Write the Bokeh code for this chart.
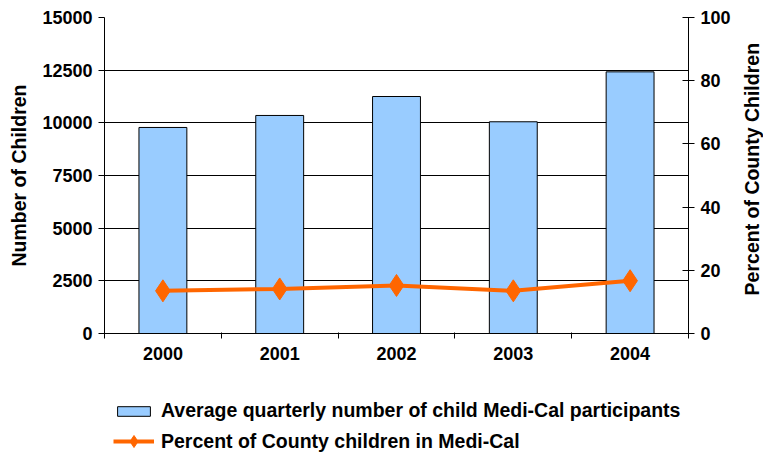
import math
from bokeh.plotting import figure
from bokeh.layouts import column, row
from bokeh.models import (Range1d, LinearAxis, FixedTicker, Legend, LegendItem,
                          ColumnDataSource, Label)
from bokeh.embed import file_html
from bokeh.resources import INLINE

# Medi-Cal participation by year
years = ["2000", "2001", "2002", "2003", "2004"]
participants = [9780, 10350, 11250, 10050, 12420]
percent_children = [13.5, 14.1, 15.2, 13.5, 16.7]
left_ticks = [0, 2500, 5000, 7500, 10000, 12500, 15000]
right_ticks = [0, 20, 40, 60, 80, 100]

bar_label = "Average quarterly number of child Medi-Cal participants"
line_label = "Percent of County children in Medi-Cal"
right_title = "Percent of County Children"

xpos = [i + 0.5 for i in range(len(years))]
src = ColumnDataSource(dict(x=xpos, n=participants, pct=percent_children))

FONT = "Liberation Sans"
BAR_STYLE = dict(fill_color="#99CCFF", line_color="black", line_width=1)
LINE_STYLE = dict(line_color="#FF6600", line_width=4)
DOT_STYLE = dict(marker="diamond", fill_color="#FF6600", line_color="#FF6600")

# ---- main chart -------------------------------------------------------------
p = figure(width=736, height=370, output_backend="svg", toolbar_location=None,
           x_range=Range1d(0, len(years)), y_range=Range1d(0, 15000),
           frame_width=584, frame_height=316,
           min_border_left=104, min_border_right=48, min_border_top=17,
           min_border_bottom=37)
p.extra_y_ranges = {"pct": Range1d(0, 100)}
p.outline_line_color = None

p.vbar(x="x", top="n", width=0.41, source=src, **BAR_STYLE)
p.line(x="x", y="pct", source=src, y_range_name="pct", **LINE_STYLE)
p.scatter(x="x", y="pct", source=src, y_range_name="pct", size=22, **DOT_STYLE)

# x axis: year labels at centres, tick marks between categories
xa = p.xaxis[0]
xa.ticker = FixedTicker(ticks=xpos, minor_ticks=list(range(len(years) + 1)))
xa.major_label_overrides = {x: y for x, y in zip(xpos, years)}
xa.major_tick_out = 0
xa.major_tick_in = 0
xa.minor_tick_out = 5
xa.minor_tick_in = 1
xa.minor_tick_line_color = "black"
xa.major_label_standoff = 8
p.xgrid.visible = False

# left axis
ya = p.yaxis[0]
ya.ticker = FixedTicker(ticks=left_ticks)
ya.minor_tick_line_color = None
ya.major_tick_out = 6
ya.major_tick_in = 0
ya.axis_label = "Number of Children"
ya.axis_label_standoff = 9
ya.major_label_standoff = 6
p.ygrid.grid_line_color = "black"
p.ygrid.grid_line_alpha = 1.0
p.ygrid.ticker = FixedTicker(ticks=left_ticks)

# right axis (its title is drawn alongside, reading upwards)
ra = LinearAxis(y_range_name="pct", ticker=FixedTicker(ticks=right_ticks))
ra.minor_tick_line_color = None
ra.major_tick_out = 6
ra.major_tick_in = 6
ra.major_label_standoff = 6
p.add_layout(ra, "right")

for ax in [xa, ya, ra]:
    ax.major_label_text_font = FONT
    ax.major_label_text_font_style = "bold"
    ax.major_label_text_font_size = "18px"
    ax.major_label_text_color = "black"
    ax.axis_label_text_font = FONT
    ax.axis_label_text_font_style = "bold"
    ax.axis_label_text_font_size = "19.5px"
    ax.axis_label_text_color = "black"
    ax.axis_line_color = "black"
    ax.major_tick_line_color = "black"

# ---- right-hand axis title (frame is aligned with the chart's frame) --------
t = figure(width=27, height=370, output_backend="svg", toolbar_location=None,
           x_range=Range1d(0, 1), y_range=Range1d(0, 1),
           x_axis_location=None, y_axis_location=None, min_border=0)
t.outline_line_color = None
t.grid.visible = False
t.add_layout(Label(x=15, y=0.52, x_units="screen", y_units="data",
                   text=right_title, angle=math.pi / 2,
                   text_align="center", text_baseline="middle",
                   text_font=FONT, text_font_style="bold",
                   text_font_size="19.5px", text_color="black"))

# ---- legend strip -----------------------------------------------------------
# key renderers share the chart's data but sit outside this strip's ranges
lg = figure(width=763, height=84, output_backend="svg", toolbar_location=None,
            x_range=Range1d(-10, -9), y_range=Range1d(-10, -9),
            x_axis_location=None, y_axis_location=None, min_border=0)
lg.outline_line_color = None
lg.grid.visible = False
key_bar = lg.vbar(x="x", top="n", width=0.41, source=src, **BAR_STYLE)
key_line = lg.line(x="x", y="pct", source=src, **LINE_STYLE)
key_dot = lg.scatter(x="x", y="pct", source=src, **DOT_STYLE)


def style_legend(leg, glyph_h):
    leg.label_text_font = FONT
    leg.label_text_font_style = "bold"
    leg.label_text_font_size = "19.5px"
    leg.label_text_color = "black"
    leg.glyph_width = 41
    leg.glyph_height = glyph_h
    leg.label_height = 20
    leg.label_standoff = 7
    leg.border_line_color = None
    leg.background_fill_alpha = 0
    leg.padding = 0
    leg.margin = 0


leg_bar = Legend(items=[LegendItem(label=bar_label, renderers=[key_bar])],
                 location=(113, 32))
style_legend(leg_bar, 12)
leg_line = Legend(items=[LegendItem(label=line_label,
                                    renderers=[key_line, key_dot])],
                  location=(113, -2))
style_legend(leg_line, 30)
lg.add_layout(leg_bar, "center")
lg.add_layout(leg_line, "center")

layout = column(row(p, t, spacing=0), lg, spacing=0)
open("out.html", "w").write(file_html(layout, INLINE))
